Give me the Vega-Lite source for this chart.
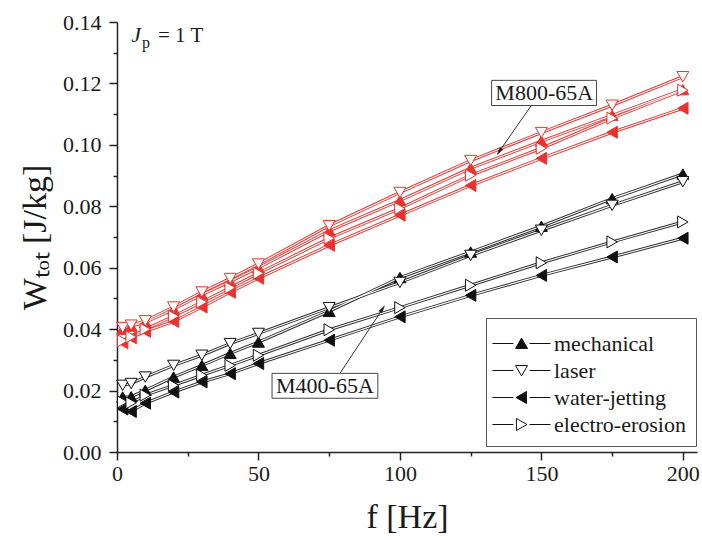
{
  "$schema": "https://vega.github.io/schema/vega-lite/v6.json",
  "width": 580,
  "height": 430,
  "autosize": {"type": "none"},
  "padding": {"left": 117, "top": 22, "right": 5, "bottom": 88},
  "background": "white",
  "config": {
    "view": {"stroke": null},
    "font": "Liberation Serif",
    "axis": {"labelFont": "Liberation Serif", "titleFont": "Liberation Serif", "labelColor": "#1a1a1a", "titleColor": "#1a1a1a", "domainColor": "#222", "tickColor": "#222", "grid": false, "titleFontWeight": "normal"},
    "legend": {"labelFont": "Liberation Serif", "titleFont": "Liberation Serif"}
  },
  "datasets": {
    "w": [
      {"steel": "M400", "method": "mechanical", "f": 2, "W": 0.0179},
      {"steel": "M400", "method": "mechanical", "f": 5, "W": 0.0180},
      {"steel": "M400", "method": "mechanical", "f": 10, "W": 0.0201},
      {"steel": "M400", "method": "mechanical", "f": 20, "W": 0.0244},
      {"steel": "M400", "method": "mechanical", "f": 30, "W": 0.0282},
      {"steel": "M400", "method": "mechanical", "f": 40, "W": 0.0321},
      {"steel": "M400", "method": "mechanical", "f": 50, "W": 0.0358},
      {"steel": "M400", "method": "mechanical", "f": 75, "W": 0.0458},
      {"steel": "M400", "method": "mechanical", "f": 100, "W": 0.0568},
      {"steel": "M400", "method": "mechanical", "f": 125, "W": 0.0651},
      {"steel": "M400", "method": "mechanical", "f": 150, "W": 0.0735},
      {"steel": "M400", "method": "mechanical", "f": 175, "W": 0.0825},
      {"steel": "M400", "method": "mechanical", "f": 200, "W": 0.0905},
      {"steel": "M400", "method": "water-jetting", "f": 2, "W": 0.0140},
      {"steel": "M400", "method": "water-jetting", "f": 5, "W": 0.0132},
      {"steel": "M400", "method": "water-jetting", "f": 10, "W": 0.0159},
      {"steel": "M400", "method": "water-jetting", "f": 20, "W": 0.0195},
      {"steel": "M400", "method": "water-jetting", "f": 30, "W": 0.0228},
      {"steel": "M400", "method": "water-jetting", "f": 40, "W": 0.0255},
      {"steel": "M400", "method": "water-jetting", "f": 50, "W": 0.0288},
      {"steel": "M400", "method": "water-jetting", "f": 75, "W": 0.0364},
      {"steel": "M400", "method": "water-jetting", "f": 100, "W": 0.0440},
      {"steel": "M400", "method": "water-jetting", "f": 125, "W": 0.0510},
      {"steel": "M400", "method": "water-jetting", "f": 150, "W": 0.0575},
      {"steel": "M400", "method": "water-jetting", "f": 175, "W": 0.0635},
      {"steel": "M400", "method": "water-jetting", "f": 200, "W": 0.0696},
      {"steel": "M400", "method": "laser", "f": 2, "W": 0.0217},
      {"steel": "M400", "method": "laser", "f": 5, "W": 0.0223},
      {"steel": "M400", "method": "laser", "f": 10, "W": 0.0244},
      {"steel": "M400", "method": "laser", "f": 20, "W": 0.0282},
      {"steel": "M400", "method": "laser", "f": 30, "W": 0.0315},
      {"steel": "M400", "method": "laser", "f": 40, "W": 0.0353},
      {"steel": "M400", "method": "laser", "f": 50, "W": 0.0386},
      {"steel": "M400", "method": "laser", "f": 75, "W": 0.0470},
      {"steel": "M400", "method": "laser", "f": 100, "W": 0.0552},
      {"steel": "M400", "method": "laser", "f": 125, "W": 0.0640},
      {"steel": "M400", "method": "laser", "f": 150, "W": 0.0722},
      {"steel": "M400", "method": "laser", "f": 175, "W": 0.0803},
      {"steel": "M400", "method": "laser", "f": 200, "W": 0.0880},
      {"steel": "M400", "method": "electro-erosion", "f": 2, "W": 0.0163},
      {"steel": "M400", "method": "electro-erosion", "f": 5, "W": 0.0160},
      {"steel": "M400", "method": "electro-erosion", "f": 10, "W": 0.0185},
      {"steel": "M400", "method": "electro-erosion", "f": 20, "W": 0.0217},
      {"steel": "M400", "method": "electro-erosion", "f": 30, "W": 0.0250},
      {"steel": "M400", "method": "electro-erosion", "f": 40, "W": 0.0282},
      {"steel": "M400", "method": "electro-erosion", "f": 50, "W": 0.0315},
      {"steel": "M400", "method": "electro-erosion", "f": 75, "W": 0.0398},
      {"steel": "M400", "method": "electro-erosion", "f": 100, "W": 0.0470},
      {"steel": "M400", "method": "electro-erosion", "f": 125, "W": 0.0543},
      {"steel": "M400", "method": "electro-erosion", "f": 150, "W": 0.0616},
      {"steel": "M400", "method": "electro-erosion", "f": 175, "W": 0.0684},
      {"steel": "M400", "method": "electro-erosion", "f": 200, "W": 0.0749},
      {"steel": "M800", "method": "mechanical", "f": 2, "W": 0.0400},
      {"steel": "M800", "method": "mechanical", "f": 5, "W": 0.0410},
      {"steel": "M800", "method": "mechanical", "f": 10, "W": 0.0422},
      {"steel": "M800", "method": "mechanical", "f": 20, "W": 0.0465},
      {"steel": "M800", "method": "mechanical", "f": 30, "W": 0.0512},
      {"steel": "M800", "method": "mechanical", "f": 40, "W": 0.0555},
      {"steel": "M800", "method": "mechanical", "f": 50, "W": 0.0600},
      {"steel": "M800", "method": "mechanical", "f": 75, "W": 0.0720},
      {"steel": "M800", "method": "mechanical", "f": 100, "W": 0.0819},
      {"steel": "M800", "method": "mechanical", "f": 125, "W": 0.0924},
      {"steel": "M800", "method": "mechanical", "f": 150, "W": 0.1012},
      {"steel": "M800", "method": "mechanical", "f": 175, "W": 0.1096},
      {"steel": "M800", "method": "mechanical", "f": 200, "W": 0.1180},
      {"steel": "M800", "method": "water-jetting", "f": 2, "W": 0.0356},
      {"steel": "M800", "method": "water-jetting", "f": 5, "W": 0.0372},
      {"steel": "M800", "method": "water-jetting", "f": 10, "W": 0.0393},
      {"steel": "M800", "method": "water-jetting", "f": 20, "W": 0.0425},
      {"steel": "M800", "method": "water-jetting", "f": 30, "W": 0.0472},
      {"steel": "M800", "method": "water-jetting", "f": 40, "W": 0.0520},
      {"steel": "M800", "method": "water-jetting", "f": 50, "W": 0.0566},
      {"steel": "M800", "method": "water-jetting", "f": 75, "W": 0.0673},
      {"steel": "M800", "method": "water-jetting", "f": 100, "W": 0.0771},
      {"steel": "M800", "method": "water-jetting", "f": 125, "W": 0.0868},
      {"steel": "M800", "method": "water-jetting", "f": 150, "W": 0.0956},
      {"steel": "M800", "method": "water-jetting", "f": 175, "W": 0.1041},
      {"steel": "M800", "method": "water-jetting", "f": 200, "W": 0.1119},
      {"steel": "M800", "method": "laser", "f": 2, "W": 0.0405},
      {"steel": "M800", "method": "laser", "f": 5, "W": 0.0413},
      {"steel": "M800", "method": "laser", "f": 10, "W": 0.0427},
      {"steel": "M800", "method": "laser", "f": 20, "W": 0.0472},
      {"steel": "M800", "method": "laser", "f": 30, "W": 0.0521},
      {"steel": "M800", "method": "laser", "f": 40, "W": 0.0565},
      {"steel": "M800", "method": "laser", "f": 50, "W": 0.0612},
      {"steel": "M800", "method": "laser", "f": 75, "W": 0.0737},
      {"steel": "M800", "method": "laser", "f": 100, "W": 0.0845},
      {"steel": "M800", "method": "laser", "f": 125, "W": 0.0949},
      {"steel": "M800", "method": "laser", "f": 150, "W": 0.1040},
      {"steel": "M800", "method": "laser", "f": 175, "W": 0.1129},
      {"steel": "M800", "method": "laser", "f": 200, "W": 0.1222},
      {"steel": "M800", "method": "electro-erosion", "f": 2, "W": 0.0362},
      {"steel": "M800", "method": "electro-erosion", "f": 5, "W": 0.0375},
      {"steel": "M800", "method": "electro-erosion", "f": 10, "W": 0.0400},
      {"steel": "M800", "method": "electro-erosion", "f": 20, "W": 0.0442},
      {"steel": "M800", "method": "electro-erosion", "f": 30, "W": 0.0488},
      {"steel": "M800", "method": "electro-erosion", "f": 40, "W": 0.0535},
      {"steel": "M800", "method": "electro-erosion", "f": 50, "W": 0.0582},
      {"steel": "M800", "method": "electro-erosion", "f": 75, "W": 0.0696},
      {"steel": "M800", "method": "electro-erosion", "f": 100, "W": 0.0793},
      {"steel": "M800", "method": "electro-erosion", "f": 125, "W": 0.0901},
      {"steel": "M800", "method": "electro-erosion", "f": 150, "W": 0.0989},
      {"steel": "M800", "method": "electro-erosion", "f": 175, "W": 0.1087},
      {"steel": "M800", "method": "electro-erosion", "f": 200, "W": 0.1178}
    ],
    "one": [{"k": 1}]
  },
  "data": {"name": "w"},
  "layer": [
    {
      "mark": {"type": "line", "strokeWidth": 3.0},
      "encoding": {
        "x": {"field": "f", "type": "quantitative", "scale": {"domain": [0, 205], "nice": false, "zero": false},
          "axis": {"values": [0, 50, 100, 150, 200], "title": "f [Hz]", "titleFontSize": 34, "titlePadding": 16, "labelFontSize": 22, "tickSize": 8, "tickWidth": 1.5, "domainWidth": 1.5, "labelPadding": 3, "labelFlush": false, "orient": "bottom"}},
        "y": {"field": "W", "type": "quantitative", "scale": {"domain": [0, 0.14], "nice": false},
          "axis": {"values": [0, 0.02, 0.04, 0.06, 0.08, 0.1, 0.12, 0.14], "format": ".2f", "title": "W\u209c\u2092\u209c [J/kg]", "titleFontSize": 34, "titlePadding": 10, "labelFontSize": 22, "tickSize": 8, "tickWidth": 1.5, "domainWidth": 1.5, "labelPadding": 8, "labelFlush": false, "orient": "left"}},
        "stroke": {"field": "steel", "type": "nominal", "scale": {"domain": ["M400", "M800"], "range": ["#2b2b2b", "#e8332f"]}, "legend": null},
        "detail": {"field": "method"}
      }
    },
    {
      "mark": {"type": "line", "strokeWidth": 1.1, "stroke": "white"},
      "encoding": {
        "x": {"field": "f", "type": "quantitative", "axis": null},
        "y": {"field": "W", "type": "quantitative", "axis": null},
        "detail": [{"field": "steel"}, {"field": "method"}]
      }
    },
    {
      "transform": [{"filter": "datum.steel === 'M400'"}],
      "mark": {"type": "point", "size": 144, "stroke": "#111", "strokeWidth": 1, "opacity": 1},
      "encoding": {
        "x": {"field": "f", "type": "quantitative", "axis": null},
        "y": {"field": "W", "type": "quantitative", "axis": null},
        "shape": {"field": "method", "type": "nominal", "scale": {"domain": ["mechanical", "laser", "water-jetting", "electro-erosion"], "range": ["triangle-up", "triangle-down", "triangle-left", "triangle-right"]}, "legend": null},
        "fill": {"field": "method", "type": "nominal", "scale": {"domain": ["mechanical", "laser", "water-jetting", "electro-erosion"], "range": ["#111", "white", "#111", "white"]}, "legend": null}
      }
    },
    {
      "transform": [{"filter": "datum.steel === 'M800'"}],
      "mark": {"type": "point", "size": 144, "stroke": "#e8332f", "strokeWidth": 1, "opacity": 1},
      "encoding": {
        "x": {"field": "f", "type": "quantitative", "axis": null},
        "y": {"field": "W", "type": "quantitative", "axis": null},
        "shape": {"field": "method", "type": "nominal", "scale": {"domain": ["mechanical", "laser", "water-jetting", "electro-erosion"], "range": ["triangle-up", "triangle-down", "triangle-left", "triangle-right"]}, "legend": null},
        "fill": {"field": "method", "type": "nominal", "scale": {"domain": ["mechanical", "laser", "water-jetting", "electro-erosion"], "range": ["#e8332f", "white", "#e8332f", "white"]}, "legend": null}
      }
    },
    {
      "mark": {"type": "point", "opacity": 0, "size": 10, "strokeWidth": 1},
      "encoding": {
        "x": {"field": "f", "type": "quantitative", "axis": {"values": [25, 75, 125, 175], "labels": false, "domain": false, "tickSize": 4, "tickWidth": 1.5, "title": null, "orient": "bottom", "grid": false}},
        "y": {"field": "W", "type": "quantitative", "axis": {"values": [0.01, 0.03, 0.05, 0.07, 0.09, 0.11, 0.13], "labels": false, "domain": false, "tickSize": 4, "tickWidth": 1.5, "title": null, "orient": "left", "grid": false}},
        "shape": {"field": "method", "type": "nominal",
          "scale": {"domain": ["mechanical", "laser", "water-jetting", "electro-erosion"],
            "range": [
              "M-1.27,0H0.13M1.2,0H2.6M0.27,0.33L0.67,-0.36L1.07,0.33Z",
              "M-1.27,0H0.13M1.2,0H2.6M0.27,-0.33L0.67,0.36L1.07,-0.33Z",
              "M-1.27,0H0.13M1.2,0H2.6M0.3,0L1.0,-0.4L1.0,0.4Z",
              "M-1.27,0H0.13M1.2,0H2.6M1.03,0L0.33,-0.4L0.33,0.4Z"
            ]},
          "legend": {"title": null, "orient": "none", "legendX": 369, "legendY": 296, "padding": 10, "strokeColor": "#555", "fillColor": "white", "labelFont": "Liberation Serif", "labelFontSize": 22, "labelColor": "#1a1a1a", "symbolSize": 900, "rowPadding": -3, "labelOffset": 27, "symbolOpacity": 1, "symbolStrokeWidth": 1}},
        "fill": {"field": "method", "type": "nominal", "scale": {"domain": ["mechanical", "laser", "water-jetting", "electro-erosion"], "range": ["#111", "white", "#111", "white"]}},
        "stroke": {"field": "method", "type": "nominal", "scale": {"domain": ["mechanical", "laser", "water-jetting", "electro-erosion"], "range": ["#111", "#111", "#111", "#111"]}}
      }
    },
    {
      "data": {"name": "one"},
      "mark": {"type": "text", "text": "J", "fontStyle": "italic", "fontSize": 22, "align": "left", "baseline": "alphabetic", "font": "Liberation Serif", "color": "#1a1a1a"},
      "encoding": {"x": {"datum": 5.0, "type": "quantitative", "axis": null}, "y": {"datum": 0.1334, "type": "quantitative", "axis": null}}
    },
    {
      "data": {"name": "one"},
      "mark": {"type": "text", "text": "p", "fontSize": 16, "align": "left", "baseline": "alphabetic", "font": "Liberation Serif", "color": "#1a1a1a"},
      "encoding": {"x": {"datum": 8.8, "type": "quantitative", "axis": null}, "y": {"datum": 0.1316, "type": "quantitative", "axis": null}}
    },
    {
      "data": {"name": "one"},
      "mark": {"type": "text", "text": "= 1 T", "fontSize": 21, "align": "left", "baseline": "alphabetic", "font": "Liberation Serif", "color": "#1a1a1a"},
      "encoding": {"x": {"datum": 14.5, "type": "quantitative", "axis": null}, "y": {"datum": 0.1334, "type": "quantitative", "axis": null}}
    },
    {
      "data": {"name": "one"},
      "mark": {"type": "rule", "stroke": "#333", "strokeWidth": 1},
      "encoding": {"x": {"datum": 146.5, "type": "quantitative", "axis": null}, "y": {"datum": 0.1129, "type": "quantitative", "axis": null}, "x2": {"datum": 134.6}, "y2": {"datum": 0.0972}}
    },
    {
      "data": {"name": "one"},
      "mark": {"type": "point", "shape": "M0,0L0.3,1.2L-0.3,1.2Z", "size": 196, "angle": 215, "fill": "#222", "stroke": null, "filled": true, "opacity": 1},
      "encoding": {"x": {"datum": 134.2, "type": "quantitative", "axis": null}, "y": {"datum": 0.0966, "type": "quantitative", "axis": null}}
    },
    {
      "data": {"name": "one"},
      "mark": {"type": "rule", "stroke": "#333", "strokeWidth": 1},
      "encoding": {"x": {"datum": 78.8, "type": "quantitative", "axis": null}, "y": {"datum": 0.0256, "type": "quantitative", "axis": null}, "x2": {"datum": 94.4}, "y2": {"datum": 0.0473}}
    },
    {
      "data": {"name": "one"},
      "mark": {"type": "point", "shape": "M0,0L0.3,1.2L-0.3,1.2Z", "size": 196, "angle": 34, "fill": "#222", "stroke": null, "filled": true, "opacity": 1},
      "encoding": {"x": {"datum": 94.7, "type": "quantitative", "axis": null}, "y": {"datum": 0.0478, "type": "quantitative", "axis": null}}
    },
    {
      "data": {"name": "one"},
      "mark": {"type": "rect", "fill": "white", "stroke": "#444", "strokeWidth": 1},
      "encoding": {"x": {"datum": 132.4, "type": "quantitative", "axis": null}, "x2": {"datum": 169.5}, "y": {"datum": 0.1210, "type": "quantitative", "axis": null}, "y2": {"datum": 0.1128}}
    },
    {
      "data": {"name": "one"},
      "mark": {"type": "text", "text": "M800-65A", "fontSize": 22, "align": "center", "baseline": "middle", "font": "Liberation Serif", "color": "#1a1a1a"},
      "encoding": {"x": {"datum": 151, "type": "quantitative", "axis": null}, "y": {"datum": 0.1169, "type": "quantitative", "axis": null}}
    },
    {
      "data": {"name": "one"},
      "mark": {"type": "rect", "fill": "white", "stroke": "#444", "strokeWidth": 1},
      "encoding": {"x": {"datum": 54.8, "type": "quantitative", "axis": null}, "x2": {"datum": 92.2}, "y": {"datum": 0.0256, "type": "quantitative", "axis": null}, "y2": {"datum": 0.0175}}
    },
    {
      "data": {"name": "one"},
      "mark": {"type": "text", "text": "M400-65A", "fontSize": 22, "align": "center", "baseline": "middle", "font": "Liberation Serif", "color": "#1a1a1a"},
      "encoding": {"x": {"datum": 73.5, "type": "quantitative", "axis": null}, "y": {"datum": 0.0216, "type": "quantitative", "axis": null}}
    }
  ],
  "resolve": {
    "scale": {"shape": "independent", "fill": "independent", "stroke": "independent"},
    "axis": {"x": "independent", "y": "independent"}
  }
}
